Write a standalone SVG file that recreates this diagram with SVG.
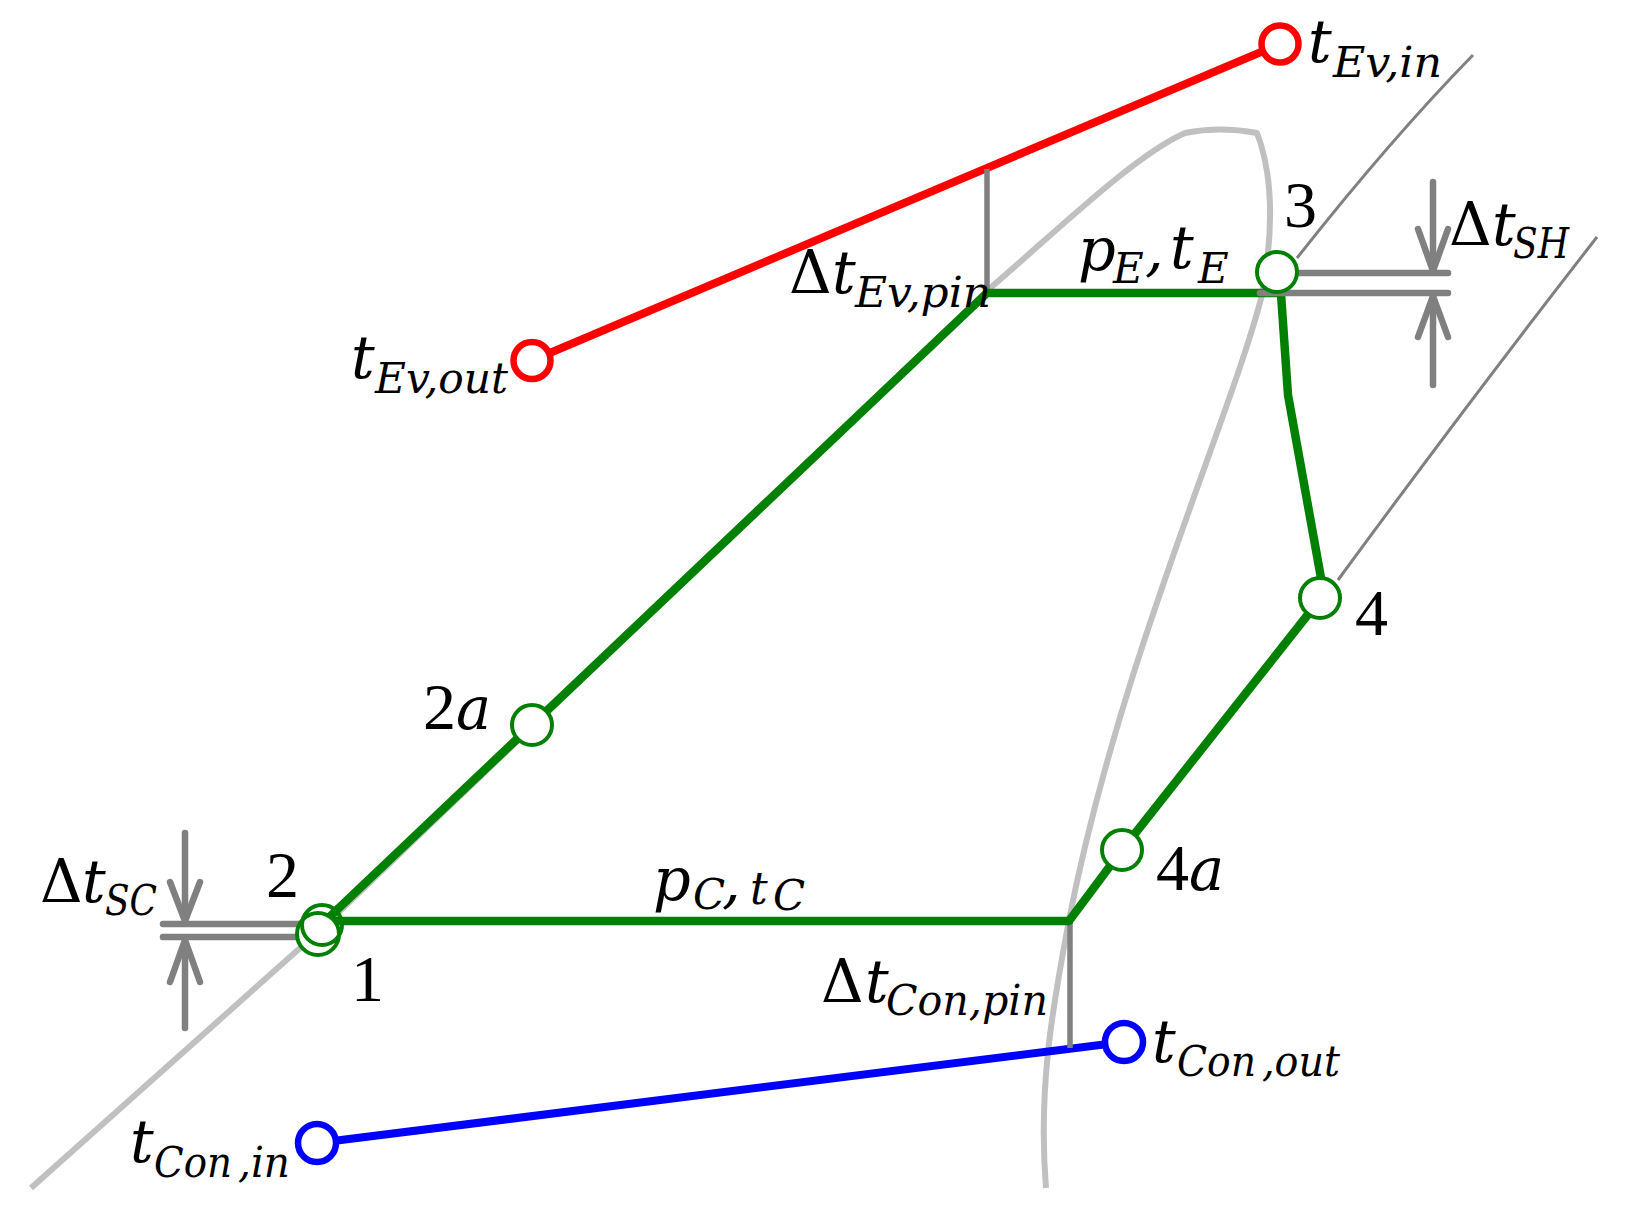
<svg xmlns="http://www.w3.org/2000/svg" width="1629" height="1224" viewBox="0 0 1629 1224">
<style>
.dome{fill:none;stroke:#c0c0c0;stroke-width:6;stroke-linejoin:round}
.iso{fill:none;stroke:#808080;stroke-width:3}
.dim{fill:none;stroke:#808080;stroke-width:6.5;stroke-linecap:round;stroke-linejoin:round}
.pin{stroke:#808080;stroke-width:5.5}
.cyc{fill:none;stroke:#008000;stroke-width:8.5;stroke-linejoin:round}
.red{fill:none;stroke:#ff0000;stroke-width:8}
.blue{fill:none;stroke:#0000ff;stroke-width:8}
.gn{fill:#fff;stroke:#008000;stroke-width:4}
.rn{fill:#fff;stroke:#ff0000;stroke-width:6.5}
.bn{fill:#fff;stroke:#0000ff;stroke-width:6.5}
text{fill:#000}
.it{font-family:"DejaVu Serif",serif;font-style:italic}
.up{font-family:"DejaVu Serif",serif}
.num{font-family:"Liberation Serif",serif}
.m{font-size:59px}
.s{font-size:42px}
.d{font-size:66px}
</style>
<rect width="1629" height="1224" fill="#fff"/>
<g id="background">
<path class="dome" d="M31,1188 L318,932 L988,290 C1060,228 1135,155 1185,133 Q1220,126 1257,133 C1275,180 1272,240 1262,295 C1230,420 1120,660 1069,920 C1052,1010 1038,1090 1046,1188"/>
<path class="iso" d="M1297,258 Q1390,140 1473,55"/>
<path class="iso" d="M1338,580 Q1470,400 1597,237"/>
</g>
<g id="connectors">
<line class="red" x1="532" y1="360.5" x2="1280" y2="44"/>
<line class="blue" x1="317" y1="1143" x2="1124" y2="1042"/>
<line class="pin" x1="987" y1="169" x2="987" y2="292"/>
<line class="pin" x1="1070" y1="921" x2="1070" y2="1048"/>
<polyline class="cyc" points="321,925 987,293 1277,293"/>
<polyline class="cyc" points="1281,294 1288,395 1321,578"/>
<polyline class="cyc" points="1321,598 1122,850 1069,921 330,921"/>
<g id="dim-sc">
<line class="dim" x1="163" y1="924" x2="328" y2="924"/>
<line class="dim" x1="163" y1="937" x2="321" y2="937"/>
<polyline class="dim" points="185,833 185,921"/>
<polyline class="dim" points="170,882 185,921 200,882"/>
<polyline class="dim" points="185,940 185,1028"/>
<polyline class="dim" points="170,982 185,940 200,982"/>
</g>
<g id="dim-sh">
<line class="dim" x1="1278" y1="273" x2="1448" y2="273"/>
<line class="dim" x1="1260" y1="293" x2="1448" y2="293"/>
<polyline class="dim" points="1433,182 1433,271"/>
<polyline class="dim" points="1418,229 1433,271 1448,229"/>
<polyline class="dim" points="1433,296 1433,385"/>
<polyline class="dim" points="1418,337 1433,296 1448,337"/>
</g>
</g>
<g id="node-1"><circle class="gn" cx="318" cy="934" r="21"/>
<text class="num d" x="351" y="1001">1</text></g>
<g id="node-2"><circle class="gn" cx="322" cy="925" r="20" style="fill:none"/>
<text class="num d" x="266" y="897">2</text></g>
<g id="node-2a"><circle class="gn" cx="532" cy="725" r="20"/>
<text x="423" y="729"><tspan class="num d">2</tspan><tspan class="it m">a</tspan></text></g>
<g id="node-3"><circle class="gn" cx="1277" cy="272" r="20"/>
<text class="num d" x="1284" y="227">3</text></g>
<g id="node-4"><circle class="gn" cx="1320" cy="598" r="20"/>
<text class="num d" x="1355" y="635">4</text></g>
<g id="node-4a"><circle class="gn" cx="1122" cy="850" r="20"/>
<text x="1156" y="890"><tspan class="num d">4</tspan><tspan class="it m">a</tspan></text></g>
<g id="node-tEvin"><circle class="rn" cx="1280" cy="44" r="18.5"/>
<text class="it m" x="1308" y="62">t</text>
<text class="it s" x="1333" y="77" textLength="109" lengthAdjust="spacingAndGlyphs">Ev,in</text></g>
<g id="node-tEvout"><circle class="rn" cx="532" cy="360.5" r="18.5"/>
<text class="it m" x="351" y="378">t</text>
<text class="it s" x="375" y="393" textLength="133" lengthAdjust="spacingAndGlyphs">Ev,out</text></g>
<g id="node-tConin"><circle class="bn" cx="317" cy="1143" r="19"/>
<text class="it m" x="130" y="1162">t</text>
<text class="it s" x="154" y="1177" textLength="78" lengthAdjust="spacingAndGlyphs">Con</text>
<text class="it s" x="238" y="1177" textLength="52" lengthAdjust="spacingAndGlyphs">,in</text></g>
<g id="node-tConout"><circle class="bn" cx="1124" cy="1042" r="19"/>
<text class="it m" x="1152" y="1062">t</text>
<text class="it s" x="1177" y="1076" textLength="79" lengthAdjust="spacingAndGlyphs">Con</text>
<text class="it s" x="1262" y="1076" textLength="78" lengthAdjust="spacingAndGlyphs">,out</text></g>
<g id="labels">
<text class="up m" x="789" y="293">Δ</text><text class="it m" x="832" y="293">t</text>
<text class="it s" x="855" y="307" textLength="136" lengthAdjust="spacingAndGlyphs">Ev,pin</text>
<text class="it m" x="1078" y="270">p</text><text class="it s" x="1113" y="283">E</text>
<text class="it m" x="1145" y="270">,</text>
<text class="it m" x="1170" y="268">t</text><text class="it s" x="1198" y="283">E</text>
<text class="up m" x="1449" y="245">Δ</text><text class="it m" x="1492" y="245">t</text>
<text class="it s" x="1513" y="258" textLength="56" lengthAdjust="spacingAndGlyphs">SH</text>
<text class="up m" x="40" y="902">Δ</text><text class="it m" x="82" y="902">t</text>
<text class="it s" x="105" y="915" textLength="52" lengthAdjust="spacingAndGlyphs">SC</text>
<text class="it m" x="653" y="900">p</text><text class="it s" x="693" y="909">C</text>
<text class="it m" x="722" y="902">,</text>
<text class="it" style="font-size:44px" x="750" y="904">t</text><text class="it s" x="773" y="910">C</text>
<text class="up m" x="821" y="1002">Δ</text><text class="it m" x="865" y="1002">t</text>
<text class="it s" x="886" y="1015" textLength="162" lengthAdjust="spacingAndGlyphs">Con,pin</text>
</g>
</svg>
